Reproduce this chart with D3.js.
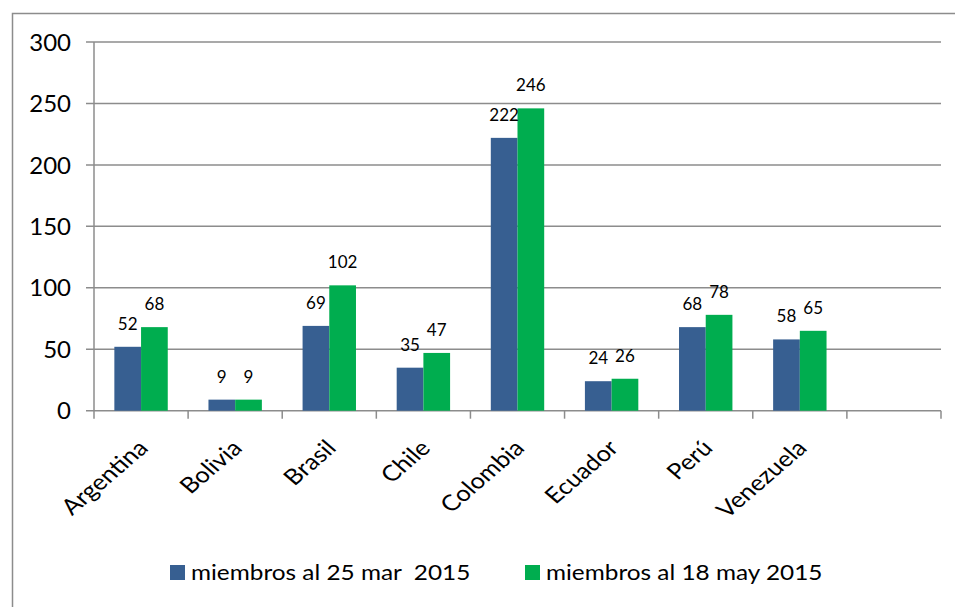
<!DOCTYPE html>
<html>
<head>
<meta charset="utf-8">
<script src="https://cdn.jsdelivr.net/npm/d3@7"></script>
<style>
  body { margin: 0; background: #fff; }
  text { font-family: Lato, "Noto Sans", sans-serif; fill: #000; }
</style>
</head>
<body>
<div id="chart"></div>
<script>
var categories = ["Argentina", "Bolivia", "Brasil", "Chile", "Colombia", "Ecuador", "Perú", "Venezuela"];
var seriesNames = ["miembros al 25 mar  2015", "miembros al 18 may 2015"];
var marValues = [52, 9, 69, 35, 222, 24, 68, 58];
var mayValues = [68, 9, 102, 47, 246, 26, 78, 65];
var yTicks = [0, 50, 100, 150, 200, 250, 300];
var colors = ["#375f91", "#00ad4f"];

(function() {
    var width = 955,
        height = 607;

    var svg = d3.select("#chart")
        .append("svg")
        .attr("width", width)
        .attr("height", height);

    // outer frame (only top and left edges show)
    svg.append("path")
        .attr("d", "M12.5," + height + "V13.5H" + width)
        .attr("fill", "none")
        .attr("stroke", "#8c8c8c")
        .attr("stroke-width", 1.5);

    // 8 categories plus one empty slot at the end
    var x = d3.scaleBand()
        .domain(categories.concat([""]))
        .range([94, 941])
        .padding(0);

    var xInner = d3.scaleBand()
        .domain([0, 1])
        .range([0, 53.4]);

    var y = d3.scaleLinear()
        .domain([0, 300])
        .range([410.7, 42]);

    // gridlines
    svg.append("g")
        .selectAll("line")
        .data(yTicks)
        .enter().append("line")
        .attr("x1", 86)
        .attr("x2", 941)
        .attr("y1", function(d) { return y(d) })
        .attr("y2", function(d) { return y(d) })
        .attr("stroke", "#8c8c8c")
        .attr("stroke-width", 1.5);

    // y axis line
    svg.append("line")
        .attr("x1", 94).attr("x2", 94)
        .attr("y1", y(300)).attr("y2", y(0))
        .attr("stroke", "#8c8c8c")
        .attr("stroke-width", 1.5);

    // category ticks
    svg.append("g")
        .selectAll("line")
        .data(x.domain().concat(["end"]))
        .enter().append("line")
        .attr("x1", function(d, i) { return 94 + i * x.bandwidth() })
        .attr("x2", function(d, i) { return 94 + i * x.bandwidth() })
        .attr("y1", y(0))
        .attr("y2", y(0) + 8)
        .attr("stroke", "#8c8c8c")
        .attr("stroke-width", 1.5);

    // y tick labels
    svg.append("g")
        .selectAll("text")
        .data(yTicks)
        .enter().append("text")
        .attr("x", 71)
        .attr("y", function(d) { return y(d) })
        .attr("dy", "0.36em")
        .attr("text-anchor", "end")
        .attr("font-size", 24)
        .text(function(d) { return d });

    var rows = categories.map(function(c, i) {
        return { cat: c, values: [marValues[i], mayValues[i]] };
    });

    var groups = svg.append("g")
        .selectAll("g")
        .data(rows)
        .enter().append("g")
        .attr("transform", function(d) {
            return "translate(" + (x(d.cat) + (x.bandwidth() - 53.4) / 2) + ",0)";
        });

    groups.selectAll("rect")
        .data(function(d) { return d.values })
        .enter().append("rect")
        .attr("x", function(d, i) { return xInner(i) })
        .attr("width", xInner.bandwidth())
        .attr("y", function(d) { return y(d) })
        .attr("height", function(d) { return y(0) - y(d) })
        .attr("fill", function(d, i) { return colors[i] });

    groups.selectAll("text")
        .data(function(d) { return d.values })
        .enter().append("text")
        .attr("x", function(d, i) { return xInner(i) + xInner.bandwidth() / 2 })
        .attr("y", function(d) { return y(d) - 17 })
        .attr("text-anchor", "middle")
        .attr("font-size", 17)
        .text(function(d) { return d });

    // category labels, rotated (slightly stretched like the original)
    svg.append("g")
        .selectAll("text")
        .data(categories)
        .enter().append("text")
        .attr("transform", function(d) {
            return "translate(" + (x(d) + x.bandwidth() / 2 + 2) + ",444) scale(1.16,1) rotate(-45)";
        })
        .attr("dy", "0.35em")
        .attr("text-anchor", "end")
        .attr("font-size", 22)
        .text(function(d) { return d });

    // legend
    var legendX = [170, 525];
    var legend = svg.append("g")
        .selectAll("g")
        .data(seriesNames)
        .enter().append("g")
        .attr("transform", function(d, i) { return "translate(" + legendX[i] + ",565)" });

    legend.append("rect")
        .attr("width", 15)
        .attr("height", 15)
        .attr("fill", function(d, i) { return colors[i] });

    legend.append("text")
        .attr("transform", "translate(21,15) scale(1.16,1)")
        .attr("font-size", 21)
        .attr("xml:space", "preserve")
        .style("white-space", "pre")
        .text(function(d) { return d });
})();
</script>
</body>
</html>
